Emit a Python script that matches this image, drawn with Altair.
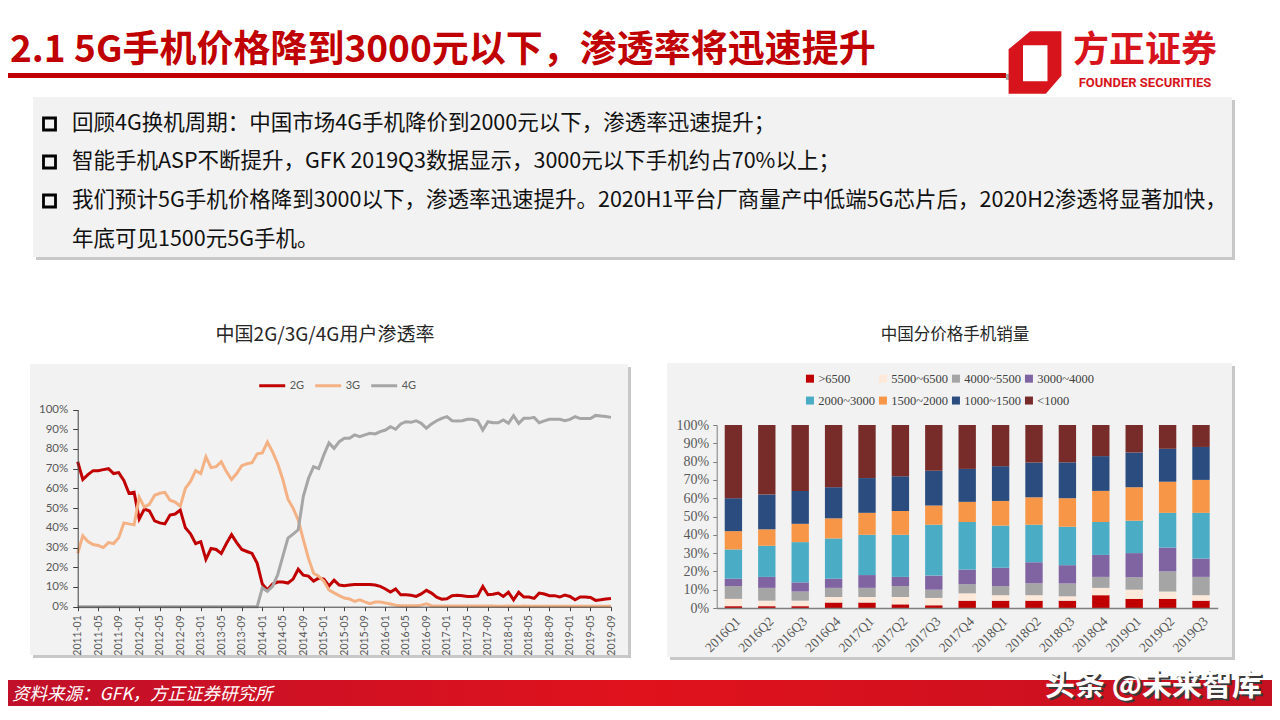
import altair as alt
import pandas as pd

# ---------------- data ----------------
months = [f"{y}-{m:02d}" for y in range(2011, 2020) for m in range(1, 13)][:105]
tick_months = months[::4]

share_2g = [73.5, 64.5, 67, 69, 69, 69.5, 70, 67.5, 68, 64,
            57.5, 58, 44.5, 49.5, 48.5, 43.5, 42.5, 42, 46.5, 47,
            49, 40, 37, 32, 33, 24, 29.5, 29, 27, 32,
            36.5, 32.5, 29, 28, 27, 22, 11.5, 8.5, 11.5, 12.5,
            12.5, 12, 14, 19, 16, 15.5, 13, 14.5, 14, 10.5,
            13.5, 11, 10.6, 11, 11.3, 11.3, 11.3, 11.3, 11, 10.3,
            9, 7.4, 9, 6, 6, 5.8, 5.2, 6.5, 8.3, 6.9,
            4.8, 3.8, 4, 5.6, 5.8, 5.5, 5.2, 5.2, 5.5, 10.3,
            6.1, 6.3, 6.9, 5.2, 7.3, 3.5, 7.3, 4.9, 4.9, 4.2,
            6.9, 6.4, 5.6, 5.6, 4.9, 5.9, 5.2, 3.5, 4.9, 4.9,
            4.7, 3.2, 3.5, 3.9, 4.2]
share_3g = [27, 36, 33, 31.5, 31, 30, 32.5, 32, 35, 42.5,
            42, 41.5, 55.5, 50.5, 52, 56.5, 57.5, 58, 54, 53,
            51, 60, 63.5, 69, 67.5, 76, 70.5, 71, 73.5, 68.5,
            64.5, 67.5, 71.5, 72.5, 73, 77.5, 78, 83.5, 78.5, 72.5,
            64.5, 54.5, 50, 44, 34, 24.5, 17, 15.5, 13, 8.5,
            7, 5.6, 4.4, 3.9, 2.7, 3.5, 2.4, 1.5, 2.4, 2.4,
            1.9, 1.4, 0.7, 0.5, 0.5, 0.5, 0.5, 0.8, 1.5, 0.5,
            0.3, 0.3, 0.3, 0.3, 0.3, 0.3, 0.3, 0.3, 0.3, 0.3,
            0.3, 0.3, 0.2, 0.2, 0.3, 0.2, 0.2, 0.3, 0.2, 0.2,
            0.2, 0.2, 0.2, 0.2, 0.2, 0.2, 0.2, 0.2, 0.2, 0.2,
            0.2, 0.2, 0.2, 0.2, 0.2]
share_4g = [0] * 36 + [
            9.5, 7.8, 10.3, 16.2,
            25.5, 34.8, 36.8, 39, 56, 65, 71, 70, 77, 83,
            80.3, 83.7, 85.4, 85.4, 87.1, 86.2, 87.1, 87.9, 87.6, 88.8,
            89.6, 91.3, 90, 92.7, 93.8, 93.5, 94.3, 93, 90.5, 92.7,
            94.3, 95.5, 96.4, 94.3, 94.2, 94.3, 95, 95, 94.3, 89.6,
            93.8, 93.3, 93.3, 94.7, 93, 96.9, 93, 95.5, 95.5, 96,
            93.3, 94.2, 95, 95, 95, 94.3, 95, 96.4, 95.4, 95.4,
            95.4, 97, 96.7, 96.4, 96]
series_names = ["2G", "3G", "4G"]
series_colors = ["#c00000", "#f4b183", "#a6a6a6"]

quarters = ["2016Q1", "2016Q2", "2016Q3", "2016Q4", "2017Q1", "2017Q2", "2017Q3", "2017Q4",
            "2018Q1", "2018Q2", "2018Q3", "2018Q4", "2019Q1", "2019Q2", "2019Q3"]
price_bands = [">6500", "5500~6500", "4000~5500", "3000~4000",
               "2000~3000", "1500~2000", "1000~1500", "<1000"]
band_colors = ["#c00000", "#fde9d9", "#a5a5a5", "#8064a2",
               "#4bacc6", "#f79646", "#2b4c7e", "#772c2a"]
gt6500 = [1, 1, 1, 3, 3, 2, 1.5, 4, 4, 4, 4, 7, 5, 5, 4]
r5500_6500 = [4, 3, 3, 3, 3, 4, 4, 4, 3, 3, 2.4, 4, 5, 4, 3]
r4000_5500 = [7, 7, 5, 5, 5, 6, 4.5, 5, 5, 6.5, 7, 6, 6.8, 11, 10]
r3000_4000 = [4, 6, 5, 5, 7, 5, 7.7, 8, 10, 11.5, 10, 12, 13.2, 13, 10]
r2000_3000 = [16, 17, 22, 22, 22, 23, 27.8, 26, 23, 20.5, 21, 18, 17.7, 19, 25]
r1500_2000 = [10, 9, 10, 11, 12, 13, 10.5, 11, 13.5, 15, 15.6, 17, 18.3, 17, 18]
r1000_1500 = [18, 19, 18, 17, 19, 19, 19, 18, 19, 19, 19.6, 19, 19, 18, 18]
lt1000 = [40, 38, 36, 34, 29, 28, 25, 24, 22.5, 20.5, 20.4, 17, 15, 13, 12]
band_values = [gt6500, r5500_6500, r4000_5500, r3000_4000,
               r2000_3000, r1500_2000, r1000_1500, lt1000]

title_text = "2.1 5G手机价格降到3000元以下，渗透率将迅速提升"
bullet_lines = [
    "回顾4G换机周期：中国市场4G手机降价到2000元以下，渗透率迅速提升；",
    "智能手机ASP不断提升，GFK 2019Q3数据显示，3000元以下手机约占70%以上；",
    "我们预计5G手机价格降到3000以下，渗透率迅速提升。2020H1平台厂商量产中低端5G芯片后，2020H2渗透将显著加快，",
    "年底可见1500元5G手机。",
]
left_title = "中国2G/3G/4G用户渗透率"
right_title = "中国分价格手机销量"
source_text = "资料来源：GFK，方正证券研究所"
watermark = "头条 @未来智库"

assert len(share_2g) == len(share_3g) == len(share_4g) == len(months) == 105

# ---------------- tables ----------------
line_df = pd.DataFrame({
    "month": months * 3,
    "series": sum([[s] * len(months) for s in series_names], []),
    "value": share_2g + share_3g + share_4g,
})
rows = []
for bi, (band, vals) in enumerate(zip(price_bands, band_values)):
    for q, v in zip(quarters, vals):
        rows.append({"quarter": q, "band": band, "share": v, "ord": bi})
bar_df = pd.DataFrame(rows)

# ---------------- layout (page pixel coordinates, page margin 8) ----------------
W, H = 1264, 698
M = 8
one = pd.DataFrame({"k": [0]})
CJK = "Noto Sans CJK SC"


def rect(x0, y0, x1, y1, color, **kw):
    return alt.Chart(one).mark_rect(color=color, **kw).encode(
        x=alt.value(x0 - M), x2=alt.value(x1 - M),
        y=alt.value(y0 - M), y2=alt.value(y1 - M))


def text(s, x, y, size, color="#000000", weight="normal", align="left",
         font=CJK, italic=False):
    kw = dict(text=s, fontSize=size, color=color, fontWeight=weight,
              align=align, baseline="middle", font=font)
    if italic:
        kw["fontStyle"] = "italic"
    return alt.Chart(one).mark_text(**kw).encode(x=alt.value(x - M), y=alt.value(y - M))


deco = [
    # header rule
    rect(-10, 73, 1006, 78, "#c00000"),
    rect(1006, 74, 1014, 80, "#a6a6a6"),
    # text box
    rect(36, 100, 1235, 260, "#c8c8c8"),
    rect(33, 97, 1232, 257, "#f2f2f2"),
    # chart panels
    rect(33, 367, 631, 658, "#c8c8c8"),
    rect(30, 364, 628, 655, "#f2f2f2"),
    rect(670, 366, 1235, 660, "#c8c8c8"),
    rect(667, 363, 1232, 657, "#f2f2f2"),
]

footer = alt.Chart(one).mark_rect(
    color=alt.Gradient(
        gradient="linear", x1=0, x2=1, y1=0, y2=0,
        stops=[alt.GradientStop(color="#c0102a", offset=0),
               alt.GradientStop(color="#e0121c", offset=0.5),
               alt.GradientStop(color="#c41020", offset=1)])
).encode(x=alt.value(-M), x2=alt.value(W + 10), y=alt.value(680 - M), y2=alt.value(H + 10))

logo_path = ("M -0.2 -1.3 L 1.1 -1.3 L 1.1 0.55 L 0.45 1.3 "
             "L -1.1 1.3 L -1.1 -0.55 Z "
             "M -0.5 -0.72 L -0.5 0.78 L 0.52 0.78 L 0.52 -0.72 Z")
logo = alt.Chart(one).mark_point(shape=logo_path, size=2304, filled=True,
                                 color="#d7141c", opacity=1, strokeWidth=0).encode(
    x=alt.value(1035 - M), y=alt.value(62.5 - M))

bullet_y = [124, 162, 201, 240]
bullets = [alt.Chart(one).mark_rect(filled=False, stroke="#000000", strokeWidth=2.8).encode(
    x=alt.value(43.5 - M), x2=alt.value(55.5 - M),
    y=alt.value(yy - 6 - M), y2=alt.value(yy + 6 - M)) for yy in bullet_y[:3]]

texts = [
    text(title_text, 10, 51, 37, color="#c00000", weight="bold"),
    text("方正证券", 1145, 51, 36, color="#d7141c", weight="bold", align="center"),
    text("FOUNDER SECURITIES", 1145, 83, 13, color="#d7141c", weight="bold",
         align="center", font="Roboto"),
    text(left_title, 325, 335, 19, color="#262626", align="center"),
    text(right_title, 955, 335, 16.5, color="#262626", align="center"),
    text(source_text, 12, 695, 17.5, color="#ffffff", italic=True),
    text(watermark, 1264, 688, 30, color="#3a3a3a", weight="bold", align="right"),
    text(watermark, 1262, 686, 30, color="#ffffff", weight="bold", align="right"),
]
for i, s in enumerate(bullet_lines):
    texts.append(text(s, 72, bullet_y[i], 21.5, color="#111111"))

# ---------------- left: line chart ----------------
LX0, LX1 = 77.7 - M, 611 - M
LY0, LY1 = 606.7 - M, 409.5 - M
lines = alt.Chart(line_df).mark_line(strokeWidth=3).encode(
    x=alt.X("month:O", sort=months, title=None,
            scale=alt.Scale(type="point", range=[LX0, LX1], padding=0),
            axis=alt.Axis(orient="bottom", offset=-(H - LY0), values=tick_months,
                          labelAngle=-90, labelAlign="right", labelBaseline="middle",
                          labelFont="Lato", labelFontSize=10.5, labelColor="#595959",
                          labelPadding=4, tickSize=4, tickColor="#404040",
                          domainColor="#404040", grid=False, zindex=1)),
    y=alt.Y("value:Q", title=None,
            scale=alt.Scale(domain=[0, 100], range=[LY0, LY1], nice=False),
            axis=alt.Axis(orient="left", offset=-LX0, values=list(range(0, 101, 10)),
                          labelExpr="datum.value + '%'", labelFont="Lato",
                          labelFontSize=11.5, labelColor="#595959", labelPadding=5,
                          tickSize=5, tickColor="#404040", domainColor="#404040",
                          grid=False, zindex=1)),
    color=alt.Color("series:N",
                    scale=alt.Scale(domain=series_names, range=series_colors),
                    legend=alt.Legend(orient="none", legendX=257.7 - M, legendY=384 - M - 13,
                                      direction="horizontal", title=None,
                                      symbolType="stroke", symbolSize=676,
                                      symbolStrokeWidth=3, labelFont="Lato",
                                      labelFontSize=11, labelColor="#595959",
                                      labelOffset=3, columnPadding=4, padding=0)),
)

# ---------------- right: stacked bars ----------------
RX0, RX1 = 716.7 - M, 1217.7 - M
RY0, RY1 = 608 - M, 425 - M
bars = alt.Chart(bar_df).mark_bar().encode(
    x=alt.X("quarter:N", sort=quarters, title=None,
            scale=alt.Scale(type="band", range=[RX0, RX1], paddingInner=0.48,
                            paddingOuter=0.24),
            axis=alt.Axis(orient="bottom", offset=-(H - RY0), labelAngle=-45,
                          labelFont="Liberation Serif", labelFontSize=13.5,
                          labelColor="#595959", ticks=False, labelPadding=6,
                          domainColor="#7f7f7f", domainWidth=1.5, grid=False,
                          zindex=1)),
    y=alt.Y("share:Q", stack="normalize", title=None,
            scale=alt.Scale(domain=[0, 1], range=[RY0, RY1], nice=False),
            axis=alt.Axis(orient="left", offset=-RX0, format=".0%",
                          values=[i / 10 for i in range(11)],
                          labelFont="Liberation Serif", labelFontSize=14,
                          labelColor="#595959", tickSize=4, tickColor="#7f7f7f",
                          domainColor="#7f7f7f", labelPadding=4, grid=False,
                          zindex=1)),
    color=alt.Color("band:N",
                    scale=alt.Scale(domain=price_bands, range=band_colors),
                    legend=alt.Legend(orient="none", legendX=807.7 - M - 4,
                                      legendY=379.3 - M - 7, direction="horizontal",
                                      columns=4, title=None, symbolType="square",
                                      symbolSize=64, symbolStrokeWidth=0,
                                      labelFont="Liberation Serif", labelFontSize=12.5,
                                      labelColor="#404040", labelOffset=2,
                                      columnPadding=1, rowPadding=9, padding=0)),
    order=alt.Order("ord:Q"),
)

chart = alt.layer(
    *deco, footer, logo, *bullets, *texts, lines, bars
).resolve_scale(
    x="independent", y="independent", color="independent"
).properties(
    width=W, height=H, autosize=alt.AutoSizeParams(type="none"), padding=0,
    background="#ffffff"
).configure_view(strokeWidth=0)

chart.save("out.html", embed_options={"renderer": "svg", "actions": False})
